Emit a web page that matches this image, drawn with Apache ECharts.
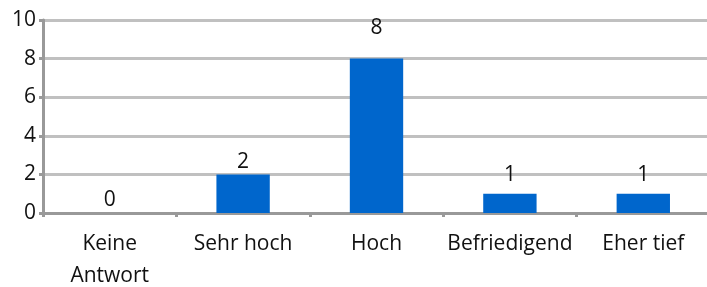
<!DOCTYPE html>
<html>
<head>
<meta charset="utf-8">
<script src="https://cdn.jsdelivr.net/npm/echarts@6/dist/echarts.min.js"></script>
<style>
  html, body { margin: 0; padding: 0; background: #fff; }
  #chart { width: 707px; height: 287px; }
</style>
</head>
<body>
<div id="chart"></div>
<script>
const categories = ["Keine\nAntwort", "Sehr hoch", "Hoch", "Befriedigend", "Eher tief"];
const values = [0, 2, 8, 1, 1];
const yTicks = [0, 2, 4, 6, 8, 10];

// label gap above each bar, as placed in the original
const labelGaps = [2, 2, 20, 8, 8];
const font = "'Open Sans', 'Liberation Sans', sans-serif";

const chart = echarts.init(document.getElementById("chart"));
chart.setOption({
  animation: false,
  grid: { left: 43, right: -3, top: 20, bottom: 74, outerBoundsMode: "none", containLabel: false },
  xAxis: {
    type: "category",
    data: categories,
    axisLine: { lineStyle: { color: "#999", width: 3 } },
    axisTick: { show: true, length: 4, lineStyle: { color: "#999", width: 3 } },
    axisLabel: { interval: 0, color: "#111", fontSize: 21, fontFamily: font, margin: 15, lineHeight: 32 },
  },
  yAxis: {
    type: "value",
    min: yTicks[0],
    max: yTicks[yTicks.length - 1],
    interval: 2,
    axisLine: { show: true, lineStyle: { color: "#999", width: 3 } },
    axisTick: { show: true, length: 4, lineStyle: { color: "#999", width: 3 } },
    axisLabel: { color: "#111", fontSize: 21, fontFamily: font, margin: 7 },
    splitLine: { lineStyle: { color: "#c0c0c0", width: 3 } },
  },
  series: [
    {
      type: "bar",
      data: values.map((v, i) => ({ value: v, label: { distance: labelGaps[i] } })),
      barWidth: "40%",
      itemStyle: { color: "#0066cc" },
      label: {
        show: true,
        position: "top",
        color: "#111",
        fontSize: 21,
        fontFamily: font,
      },
    },
  ],
});
</script>
</body>
</html>
